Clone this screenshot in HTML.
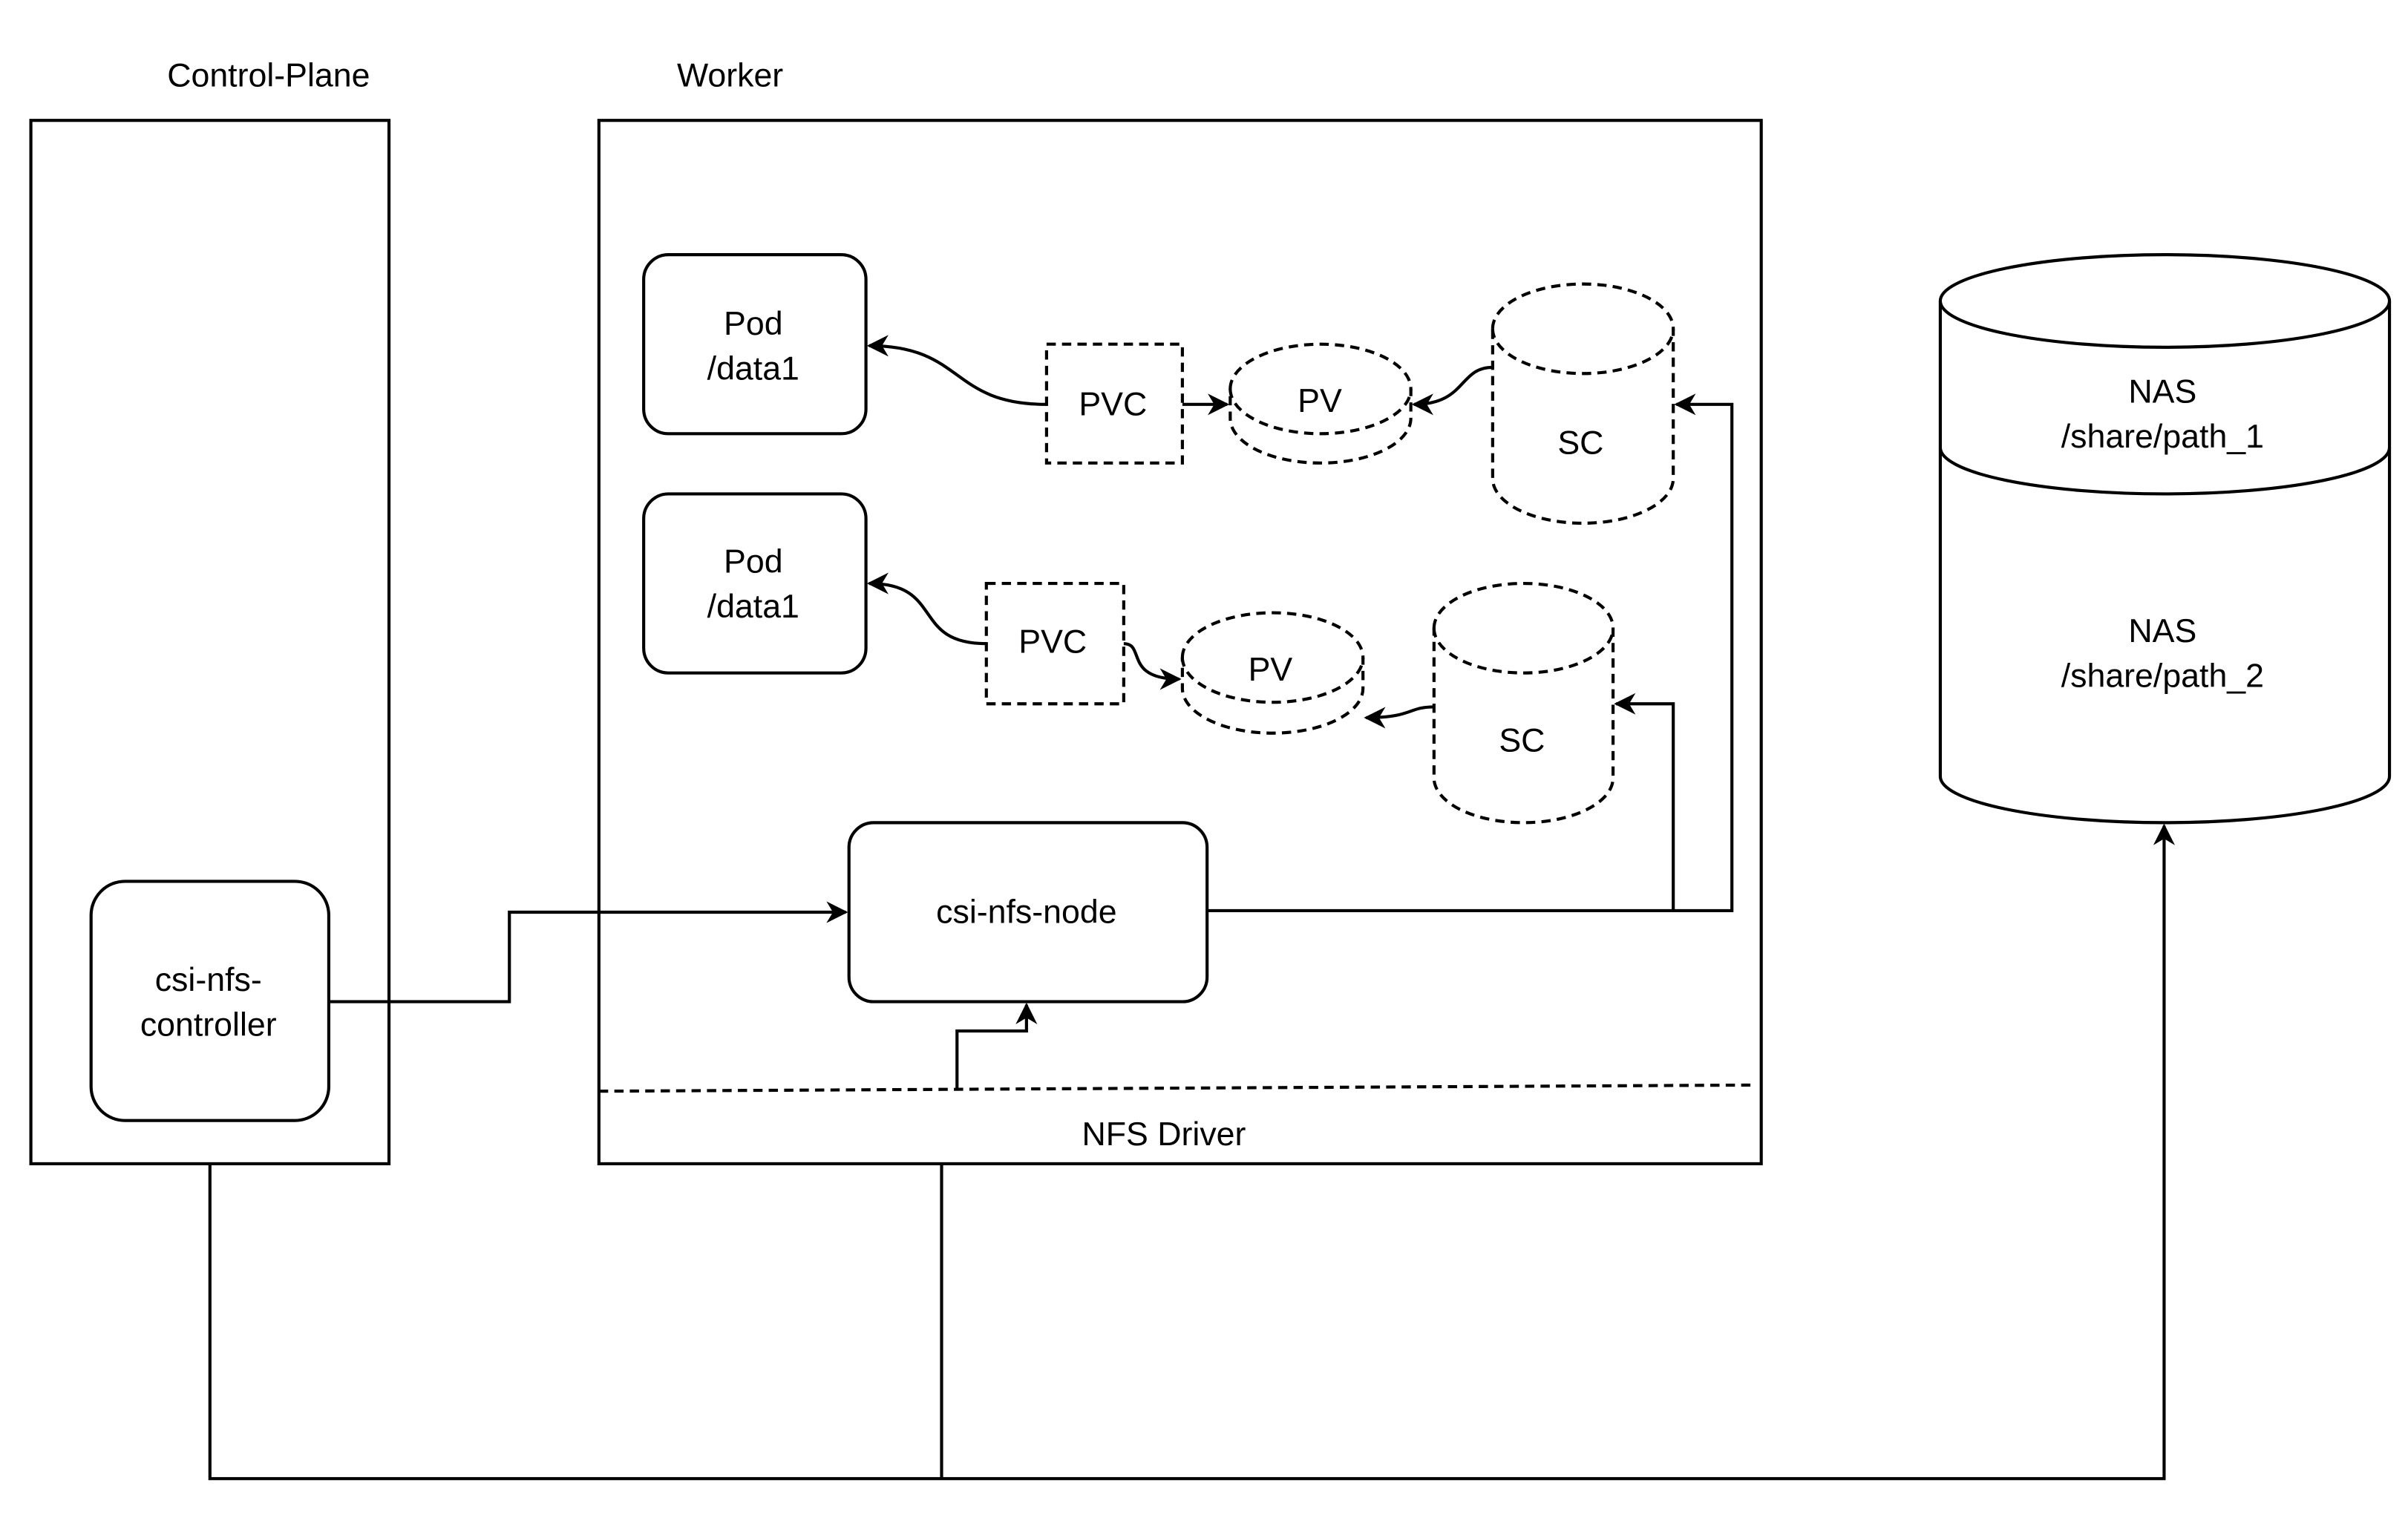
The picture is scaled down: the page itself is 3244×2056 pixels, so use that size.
<!DOCTYPE html>
<html><head><meta charset="utf-8"><style>html,body{margin:0;padding:0;background:#fff}svg{display:block}</style></head>
<body>
<svg width="3244" height="2056" viewBox="0 0 1560 988.7" preserveAspectRatio="none" xmlns="http://www.w3.org/2000/svg" font-family="Liberation Sans, Arial, sans-serif" font-size="21.5" text-anchor="middle">
<defs>
<marker id="a" viewBox="0 0 10 10" refX="9" refY="5" markerWidth="8" markerHeight="8" markerUnits="userSpaceOnUse" orient="auto">
<path d="M0,0 L10,5 L0,10 L3,5 Z" fill="#000"/>
</marker>
<marker id="b" viewBox="0 0 10 10" refX="9" refY="5" markerWidth="14" markerHeight="14" markerUnits="userSpaceOnUse" orient="auto">
<path d="M0,0 L10,5 L0,10 L3,5 Z" fill="#000"/>
</marker>
</defs>
<g fill="none" stroke="#000" stroke-width="2">
<rect x="20" y="78" width="232" height="676"/>
<rect x="388" y="78" width="753" height="676"/>
<rect x="417" y="165" width="144" height="116" rx="16"/>
<rect x="417" y="320" width="144" height="116" rx="16"/>
<rect x="550" y="533" width="232" height="116" rx="16"/>
<rect x="59" y="571" width="154" height="155" rx="22"/>
<!-- NAS -->
<path d="M1257,195 A145.5,30 0 0 1 1548,195 L1548,503 A145.5,30 0 0 1 1257,503 Z"/>
<path d="M1257,195 A145.5,30 0 0 0 1548,195"/>
<path d="M1257,290 A145.5,30 0 0 0 1548,290"/>
</g>
<g fill="none" stroke="#000" stroke-width="2" stroke-dasharray="6,4">
<rect x="678" y="223" width="88" height="77"/>
<rect x="639" y="378" width="89" height="78"/>
<path d="M797,252 A58.5,29 0 0 1 914,252 L914,271 A58.5,29 0 0 1 797,271 Z"/>
<path d="M797,252 A58.5,29 0 0 0 914,252"/>
<path d="M766,426 A58.5,29 0 0 1 883,426 L883,446 A58.5,29 0 0 1 766,446 Z"/>
<path d="M766,426 A58.5,29 0 0 0 883,426"/>
<path d="M967,213 A58.5,29 0 0 1 1084,213 L1084,310 A58.5,29 0 0 1 967,310 Z"/>
<path d="M967,213 A58.5,29 0 0 0 1084,213"/>
<path d="M929,407 A58,29 0 0 1 1045,407 L1045,504 A58,29 0 0 1 929,504 Z"/>
<path d="M929,407 A58,29 0 0 0 1045,407"/>
<path d="M388,707 L1137,703"/>
</g>
<g fill="none" stroke="#000" stroke-width="2">
<path d="M213,649 L330,649 L330,591 L548,591" marker-end="url(#b)"/>
<path d="M782,590 L1122,590 L1122,262 L1086,262" marker-end="url(#b)"/>
<path d="M1084,590 L1084,456 L1047,456" marker-end="url(#b)"/>
<path d="M620,705 L620,668 L665,668 L665,651" marker-end="url(#b)"/>
<path d="M136,754 L136,958 L1402,958 L1402,535" marker-end="url(#b)"/>
<path d="M610,754 L610,958"/>
<path d="M678,262 C615,262 625,224 563,224" marker-end="url(#b)"/>
<path d="M766,262 L795,262" marker-end="url(#b)"/>
<path d="M967,238 C945,238 950,262 916,262" marker-end="url(#b)"/>
<path d="M639,417 C590,417 612,378 563,378" marker-end="url(#b)"/>
<path d="M728,417 C742,417 728,440 764,440" marker-end="url(#b)"/>
<path d="M929,458 C912,458 915,465 885,465" marker-end="url(#b)"/>
</g>
<g fill="#000">
<text x="174" y="56">Control-Plane</text>
<text x="473" y="56">Worker</text>
<text x="488" y="217">Pod</text><text x="488" y="246">/data1</text>
<text x="488" y="371">Pod</text><text x="488" y="400">/data1</text>
<text x="721" y="269">PVC</text>
<text x="855" y="267">PV</text>
<text x="1024" y="294">SC</text>
<text x="682" y="423">PVC</text>
<text x="823" y="441">PV</text>
<text x="986" y="487">SC</text>
<text x="665" y="598">csi-nfs-node</text>
<text x="135" y="642">csi-nfs-</text><text x="135" y="671">controller</text>
<text x="754" y="742">NFS Driver</text>
<text x="1401" y="261">NAS</text><text x="1401" y="290">/share/path_1</text>
<text x="1401" y="416">NAS</text><text x="1401" y="445">/share/path_2</text>
</g>
</svg>
</body></html>
